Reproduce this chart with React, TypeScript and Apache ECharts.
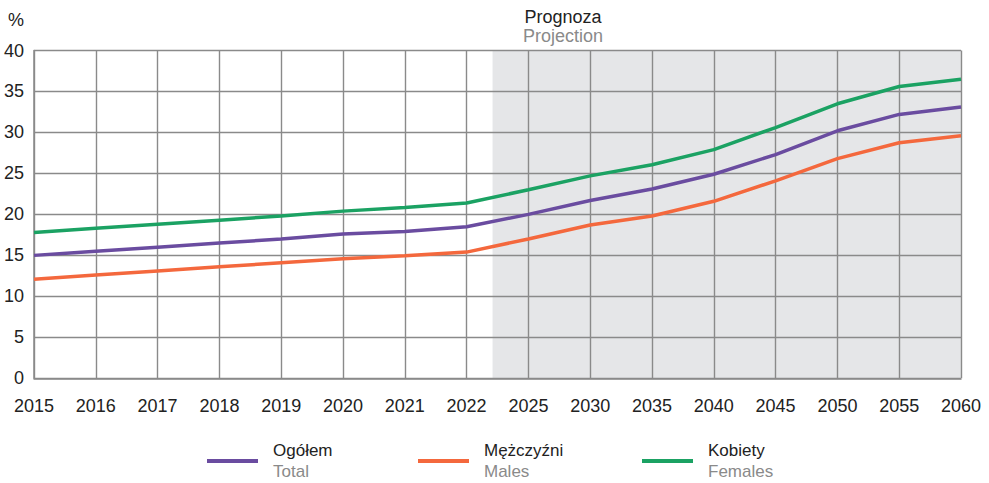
import React, { useEffect, useRef } from "react";
import * as echarts from "echarts";

const categories = ["2015","2016","2017","2018","2019","2020","2021","2022","2025","2030","2035","2040","2045","2050","2055","2060"];
const total = [15.0, 15.5, 16.0, 16.5, 17.0, 17.6, 17.9, 18.5, 20.0, 21.7, 23.1, 24.9, 27.3, 30.2, 32.2, 33.1];
const males = [12.1, 12.6, 13.1, 13.6, 14.1, 14.6, 14.95, 15.4, 17.0, 18.7, 19.8, 21.6, 24.1, 26.8, 28.75, 29.6];
const females = [17.8, 18.3, 18.8, 19.3, 19.8, 20.4, 20.85, 21.4, 23.0, 24.7, 26.05, 27.9, 30.6, 33.5, 35.6, 36.5];
const yTicks = [0, 5, 10, 15, 20, 25, 30, 35, 40];
const projectionStart = 7.42;

const seriesNames = ["Ogółem", "Mężczyźni", "Kobiety"];
const seriesSub = ["Total", "Males", "Females"];
const colors = ["#6a4ca0", "#f4683d", "#1ba263"];

export default function App() {
  const ref = useRef<HTMLDivElement>(null);
  useEffect(() => {
    if (!ref.current) return;
    const chart = echarts.init(ref.current, null, { renderer: "svg" });
    const font = "'Liberation Sans', Arial, sans-serif";
    const dataSets = [total, males, females];
    const legendLefts = [207, 418, 642];
    chart.setOption({
      animation: false,
      textStyle: { fontFamily: font },
      grid: { left: 34, right: 28, top: 50.5, bottom: 104.7, containLabel: false },
      xAxis: [
        {
          type: "category",
          data: categories,
          boundaryGap: false,
          z: 2,
          axisLine: { lineStyle: { color: "#8a8a8a", width: 1.5 } },
          axisTick: { show: false },
          axisLabel: { color: "#222", fontSize: 18, margin: 19, fontFamily: font },
          splitLine: { show: true, lineStyle: { color: "#8a8a8a", width: 1.4 } },
        },
        { type: "value", min: 0, max: categories.length - 1, show: false },
      ],
      yAxis: {
        type: "value",
        min: yTicks[0],
        max: yTicks[yTicks.length - 1],
        interval: 5,
        z: 2,
        axisLine: { show: true, lineStyle: { color: "#8a8a8a", width: 1.5 } },
        axisTick: { show: false },
        axisLabel: { color: "#222", fontSize: 18, margin: 10, fontFamily: font },
        splitLine: { show: true, lineStyle: { color: "#8a8a8a", width: 1.4 } },
      },
      legend: seriesNames.map((n, i) => ({
        data: [n],
        left: legendLefts[i],
        top: 442,
        padding: 0,
        icon: "rect",
        itemWidth: 51,
        itemHeight: 4,
        itemGap: 0,
        selectedMode: false,
        formatter: (name: string) => `{a|${name}}\n{b|${seriesSub[seriesNames.indexOf(name)]}}`,
        textStyle: {
          padding: [0, 0, 0, 10],
          rich: {
            a: { fontSize: 17, color: "#222", lineHeight: 21, fontFamily: font },
            b: { fontSize: 17, color: "#8a8a8a", lineHeight: 21, fontFamily: font },
          },
        },
      })),
      graphic: [
        { type: "text", left: 8, top: 11, style: { text: "%", fontSize: 18, fill: "#222", fontFamily: font } },
        {
          type: "text",
          x: 563,
          y: 7,
          style: {
            text: "{a|Prognoza}\n{b|Projection}",
            align: "center",
            fontFamily: font,
            rich: {
              a: { fontSize: 18, fill: "#222", lineHeight: 19, fontFamily: font },
              b: { fontSize: 18, fill: "#8a8a8a", lineHeight: 19, fontFamily: font },
            },
          },
        },
      ],
      series: [
        {
          type: "line",
          xAxisIndex: 1,
          data: [],
          silent: true,
          markArea: {
            silent: true,
            z: 1,
            itemStyle: { color: "#e5e6e8" },
            data: [[{ xAxis: projectionStart }, { xAxis: categories.length - 1 }]],
          },
        },
        ...seriesNames.map((n, i) => ({
          name: n,
          type: "line",
          z: 3,
          data: dataSets[i],
          symbol: "none",
          lineStyle: { color: colors[i], width: 3.5 },
          itemStyle: { color: colors[i] },
        })),
      ],
    });
    return () => chart.dispose();
  }, []);
  return <div ref={ref} style={{ width: 989, height: 483, position: "absolute", left: 0, top: 0 }} />;
}
